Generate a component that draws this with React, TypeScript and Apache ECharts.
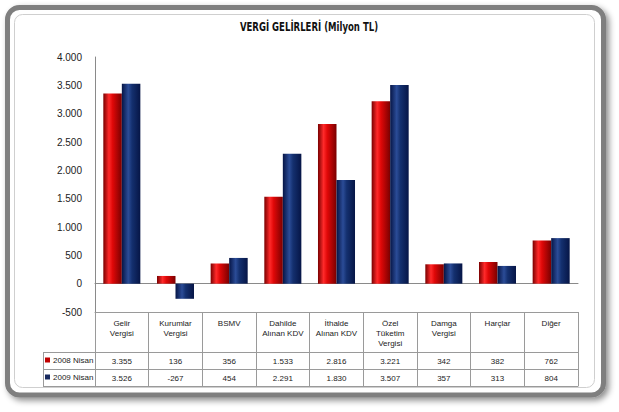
import React, { useEffect, useRef } from "react";
import * as echarts from "echarts";

const categories = [
  "Gelir\nVergisi",
  "Kurumlar\nVergisi",
  "BSMV",
  "Dahilde\nAlınan KDV",
  "İthalde\nAlınan KDV",
  "Özel\nTüketim\nVergisi",
  "Damga\nVergisi",
  "Harçlar",
  "Diğer",
];
const seriesNames = ["2008 Nisan", "2009 Nisan"];
const values2008 = [3355, 136, 356, 1533, 2816, 3221, 342, 382, 762];
const values2009 = [3526, -267, 454, 2291, 1830, 3507, 357, 313, 804];
const yMin = -500;
const yMax = 4000;
const yInterval = 500;
const titleText = "VERGİ GELİRLERİ (Milyon TL)";

const fmt = (n: number) => {
  const s = Math.abs(n).toString().replace(/\B(?=(\d{3})+(?!\d))/g, ".");
  return (n < 0 ? "-" : "") + s;
};

const FONT = "'Liberation Sans', Arial, sans-serif";
const LINE = "#9a9a9a";

const redGrad = new echarts.graphic.LinearGradient(0, 0, 1, 0, [
  { offset: 0, color: "#7a0000" },
  { offset: 0.3, color: "#ff2a2a" },
  { offset: 0.5, color: "#e00808" },
  { offset: 1, color: "#7a0000" },
]);
const blueGrad = new echarts.graphic.LinearGradient(0, 0, 1, 0, [
  { offset: 0, color: "#061546" },
  { offset: 0.35, color: "#2b4c97" },
  { offset: 0.55, color: "#14306f" },
  { offset: 1, color: "#061546" },
]);

export default function App() {
  const ref = useRef<HTMLDivElement>(null);
  useEffect(() => {
    if (!ref.current) return;
    const chart = echarts.init(ref.current, null, { renderer: "svg" });
    const rowAxis = (offset: number, vals: number[] | null) => ({
      type: "category",
      data: categories,
      position: "bottom",
      offset,
      axisLine: { show: true, onZero: false, lineStyle: { color: LINE, width: 1 } },
      axisTick: { show: false },
      axisLabel: vals
        ? {
            show: true,
            interval: 0,
            margin: 4,
            fontSize: 8,
            lineHeight: 10,
            verticalAlign: "top",
            color: "#222",
            fontFamily: FONT,
            formatter: (_v: string, i: number) => fmt(vals[i]),
          }
        : { show: false },
    });
    chart.setOption({
      animation: false,
      backgroundColor: "#ffffff",
      graphic: [
        {
          type: "rect",
          z: -10,
          shape: { x: 7.5, y: 7.5, width: 596, height: 387.5, r: 12 },
          style: {
            fill: "#ffffff",
            stroke: "#7f7f7f",
            lineWidth: 5,
            shadowBlur: 6,
            shadowOffsetX: 3,
            shadowOffsetY: 3,
            shadowColor: "rgba(0,0,0,0.45)",
          },
        },
        {
          type: "rect",
          z: -9,
          shape: { x: 14.5, y: 14.5, width: 580, height: 373, r: 8 },
          style: { fill: "#ffffff", stroke: "#cfcfcf", lineWidth: 1 },
        },
        {
          type: "text",
          z: 5,
          x: 309,
          y: 27,
          scaleX: 0.76,
          originX: 0,
          style: {
            text: titleText,
            fontSize: 12.5,
            fontWeight: "bold",
            fill: "#111",
            fontFamily: "'DejaVu Sans Condensed', 'Liberation Sans', sans-serif",
            align: "center",
            verticalAlign: "middle",
          },
        },
        {
          type: "group",
          z: 5,
          children: [
            { type: "line", shape: { x1: 43, y1: 352.5, x2: 95, y2: 352.5 }, style: { stroke: LINE, lineWidth: 1 } },
            { type: "line", shape: { x1: 43, y1: 369.5, x2: 95, y2: 369.5 }, style: { stroke: LINE, lineWidth: 1 } },
            { type: "line", shape: { x1: 43, y1: 386.5, x2: 95, y2: 386.5 }, style: { stroke: LINE, lineWidth: 1 } },
            { type: "line", shape: { x1: 43.5, y1: 352, x2: 43.5, y2: 387 }, style: { stroke: LINE, lineWidth: 1 } },
          ],
        },
      ],
      legend: {
        left: 45,
        top: 355,
        padding: 0,
        orient: "vertical",
        itemGap: 7,
        itemWidth: 5,
        itemHeight: 5,
        icon: "rect",
        textStyle: { fontSize: 8, lineHeight: 10, color: "#222", fontFamily: FONT, padding: [0, 0, 0, -2] },
        data: [
          { name: seriesNames[0], itemStyle: { color: "#c00000" } },
          { name: seriesNames[1], itemStyle: { color: "#17295e" } },
        ],
      },
      grid: { left: 95, right: 41, top: 57, bottom: 100, containLabel: false },
      xAxis: [
        {
          type: "category",
          data: categories,
          position: "bottom",
          axisLine: { show: true, onZero: false, lineStyle: { color: LINE, width: 1 } },
          axisTick: { show: true, interval: 0, length: 74, lineStyle: { color: LINE, width: 1 } },
          axisLabel: {
            show: true,
            interval: 0,
            margin: 6,
            fontSize: 8,
            lineHeight: 10,
            verticalAlign: "top",
            color: "#222",
            fontFamily: FONT,
          },
        },
        rowAxis(40, values2008),
        rowAxis(57, values2009),
        rowAxis(74, null),
        {
          type: "category",
          data: categories,
          axisLine: { show: true, onZero: true, lineStyle: { color: "#8a8a8a", width: 1 } },
          axisTick: { show: false },
          axisLabel: { show: false },
        },
      ],
      yAxis: {
        type: "value",
        min: yMin,
        max: yMax,
        interval: yInterval,
        axisLine: { show: true, lineStyle: { color: "#8a8a8a", width: 1 } },
        axisTick: { show: false },
        splitLine: { show: false },
        axisLabel: {
          margin: 13,
          fontSize: 10,
          color: "#222",
          fontFamily: FONT,
          formatter: (v: number) => fmt(v),
        },
      },
      series: [
        {
          name: seriesNames[0],
          type: "bar",
          xAxisIndex: 0,
          data: values2008,
          barGap: "0%",
          barCategoryGap: "31%",
          itemStyle: { color: redGrad },
        },
        {
          name: seriesNames[1],
          type: "bar",
          xAxisIndex: 0,
          data: values2009,
          barGap: "0%",
          barCategoryGap: "31%",
          itemStyle: { color: blueGrad },
        },
      ],
    });
    return () => chart.dispose();
  }, []);
  return (
    <div
      ref={ref}
      style={{ position: "absolute", left: 0, top: 0, width: 619, height: 412 }}
    />
  );
}
